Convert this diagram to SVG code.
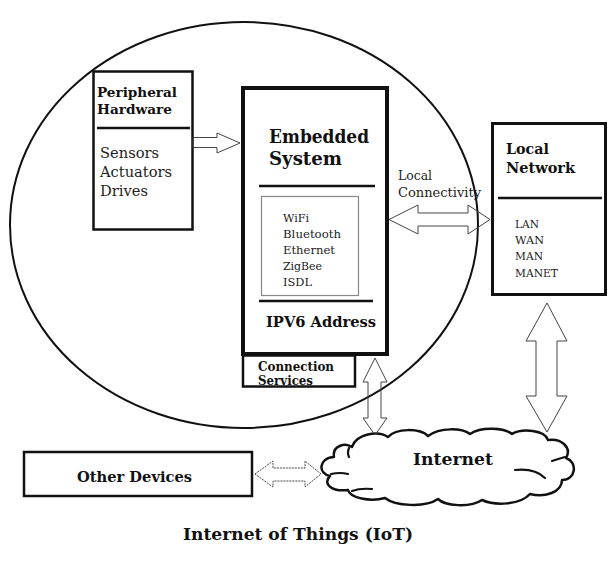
<svg xmlns="http://www.w3.org/2000/svg" width="616" height="565" viewBox="0 0 616 565">
<style>
.bg{fill:#fff}
.box{fill:#fff;stroke:#111}
.div{stroke:#111;stroke-width:2.5}
.b{font-family:"DejaVu Serif","Liberation Serif",serif;font-weight:bold;fill:#111}
.r{font-family:"DejaVu Serif","Liberation Serif",serif;fill:#222}
.arr{fill:none;stroke:#444;stroke-width:1}
.cloud{fill:#fff;stroke:#111;stroke-width:2.5;stroke-linejoin:round}
.curl{fill:none;stroke:#111;stroke-width:2.2;stroke-linecap:round}
</style>
<rect class="bg" width="616" height="565"/>
<ellipse id="iot-boundary" cx="244" cy="225" rx="234" ry="203" fill="none" stroke="#111" stroke-width="2"/>

<g id="peripheral">
<rect class="box" x="93.5" y="71.5" width="99" height="158" stroke-width="2.5"/>
<text class="b" x="97" y="97" font-size="13.5" textLength="80" lengthAdjust="spacingAndGlyphs">Peripheral</text>
<text class="b" x="97" y="114" font-size="13.5" textLength="75" lengthAdjust="spacingAndGlyphs">Hardware</text>
<line class="div" x1="97" y1="128" x2="190" y2="128"/>
<text class="r" x="100" y="158" font-size="14" textLength="59" lengthAdjust="spacingAndGlyphs">Sensors</text>
<text class="r" x="100" y="177" font-size="14" textLength="72" lengthAdjust="spacingAndGlyphs">Actuators</text>
<text class="r" x="100" y="196" font-size="14" textLength="48" lengthAdjust="spacingAndGlyphs">Drives</text>
</g>

<g id="embedded">
<rect class="box" x="243" y="88" width="144" height="266" stroke-width="4"/>
<text class="b" x="269" y="143" font-size="18" textLength="100" lengthAdjust="spacingAndGlyphs">Embedded</text>
<text class="b" x="269" y="165" font-size="18" textLength="73" lengthAdjust="spacingAndGlyphs">System</text>
<line class="div" x1="259" y1="186" x2="375" y2="186"/>
<rect x="261.5" y="196.5" width="97" height="99" fill="#fff" stroke="#888" stroke-width="1.2"/>
<text class="r" x="283" y="222" font-size="11" textLength="26" lengthAdjust="spacingAndGlyphs">WiFi</text>
<text class="r" x="283" y="238" font-size="11" textLength="58" lengthAdjust="spacingAndGlyphs">Bluetooth</text>
<text class="r" x="283" y="254" font-size="11" textLength="52" lengthAdjust="spacingAndGlyphs">Ethernet</text>
<text class="r" x="283" y="270" font-size="11" textLength="39" lengthAdjust="spacingAndGlyphs">ZigBee</text>
<text class="r" x="283" y="286" font-size="11" textLength="29" lengthAdjust="spacingAndGlyphs">ISDL</text>
<line class="div" x1="259" y1="301" x2="373" y2="301"/>
<text class="b" x="266" y="327" font-size="15" textLength="110" lengthAdjust="spacingAndGlyphs">IPV6 Address</text>
</g>

<g id="connection-services">
<rect class="box" x="243" y="355.5" width="112" height="31" stroke-width="2.5"/>
<text class="b" x="258" y="371" font-size="12" textLength="76" lengthAdjust="spacingAndGlyphs">Connection</text>
<text class="b" x="258" y="385" font-size="12" textLength="55" lengthAdjust="spacingAndGlyphs">Services</text>
</g>

<g id="local-network">
<rect class="box" x="492.5" y="123.5" width="113" height="171" stroke-width="3"/>
<text class="b" x="506" y="154" font-size="15" textLength="43" lengthAdjust="spacingAndGlyphs">Local</text>
<text class="b" x="506" y="173" font-size="15" textLength="69" lengthAdjust="spacingAndGlyphs">Network</text>
<line class="div" x1="498" y1="198" x2="602" y2="198"/>
<text class="r" x="515" y="228" font-size="11" textLength="24" lengthAdjust="spacingAndGlyphs">LAN</text>
<text class="r" x="515" y="244" font-size="11" textLength="29" lengthAdjust="spacingAndGlyphs">WAN</text>
<text class="r" x="515" y="260" font-size="11" textLength="28" lengthAdjust="spacingAndGlyphs">MAN</text>
<text class="r" x="515" y="277" font-size="11" textLength="43" lengthAdjust="spacingAndGlyphs">MANET</text>
</g>

<g id="other-devices">
<rect class="box" x="24" y="452" width="228" height="44" stroke-width="2.5"/>
<text class="b" x="77" y="482" font-size="15" textLength="115" lengthAdjust="spacingAndGlyphs">Other Devices</text>
</g>

<g id="internet">
<path class="cloud" d="M330,476 C318,474 318,458 334,457 C332,446 345,442 352,447 C356,434 378,430 388,437 C396,428 420,428 428,436 C440,427 462,428 470,434 C482,426 505,428 512,434 C522,428 545,430 548,440 C562,438 572,448 566,458 C578,462 576,480 562,480 C562,492 545,498 530,494 C520,505 495,506 482,500 C470,508 445,506 438,499 C425,508 395,506 385,498 C370,502 350,498 348,490 C332,492 322,484 330,476 Z"/>
<path class="curl" d="M331,474 Q340,472 348,474"/>
<path class="curl" d="M349,448 Q347,453 349,457"/>
<path class="curl" d="M352,491 Q360,488 372,489"/>
<path class="curl" d="M515,470 Q535,468 545,478"/>
<path class="curl" d="M552,461 Q558,459 565,457"/>
<text class="b" x="413" y="465" font-size="17" textLength="80" lengthAdjust="spacingAndGlyphs">Internet</text>
</g>

<g id="connectors">
<polygon class="arr" points="193,137.5 217,137.5 217,133 240,143 217,153 217,147.5 193,147.5"/>
<polygon class="arr" points="389,219.5 418,205 418,213 468,213 468,205 490,219.5 468,234 468,226 418,226 418,234"/>
<polygon class="arr" points="547,303 567,341 557,341 557,396 567,396 547,432 526,396 536,396 536,341 526,341"/>
<polygon class="arr" points="375,358 387,382 381,382 381,418 387,418 375,435 363,418 368,418 368,382 363,382"/>
<polygon class="arr" points="255,474 273,461 273,468 305,468 305,461 321,474 305,487 305,481 273,481 273,487" stroke-dasharray="2 1" stroke="#555"/>
<text class="r" x="398" y="180" font-size="12" textLength="34" lengthAdjust="spacingAndGlyphs">Local</text>
<text class="r" x="398" y="197" font-size="12" textLength="83" lengthAdjust="spacingAndGlyphs">Connectivity</text>
</g>

<text id="title" class="b" x="183" y="540" font-size="17" textLength="230" lengthAdjust="spacingAndGlyphs">Internet of Things (IoT)</text>
</svg>
